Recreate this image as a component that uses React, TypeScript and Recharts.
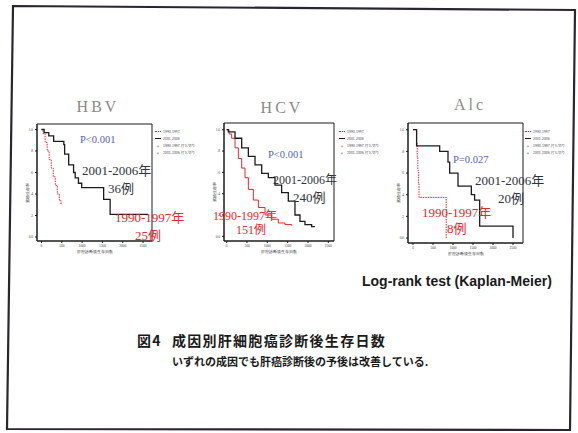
import React from "react";
import { LineChart, Line, XAxis, YAxis, ReferenceArea } from "recharts";

// survival time (days) / cumulative survival, 1990-1997 vs 2001-2006
const HBV_OLD_T = [0, 40, 90, 140, 190, 240, 290, 340, 390, 440, 480];
const HBV_OLD_S = [1.0, 0.96, 0.88, 0.8, 0.72, 0.64, 0.56, 0.48, 0.4, 0.34, 0.3];
const HBV_NEW_T = [0, 65, 180, 300, 550, 570, 670, 790, 830, 910, 990, 1530, 1690, 2620];
const HBV_NEW_S = [1.0, 0.97, 0.94, 0.89, 0.86, 0.77, 0.67, 0.6, 0.55, 0.5, 0.46, 0.35, 0.21, 0.21];

const HCV_OLD_T = [0, 60, 123, 205, 287, 369, 451, 533, 656, 779, 943, 1107, 1270, 1434, 1600];
const HCV_OLD_S = [1.0, 0.96, 0.92, 0.83, 0.73, 0.64, 0.55, 0.44, 0.34, 0.27, 0.2, 0.16, 0.125, 0.11, 0.1];
const HCV_NEW_T = [0, 41, 205, 369, 533, 697, 861, 1025, 1189, 1352, 1516, 1680, 1803, 1926, 2090, 2170];
const HCV_NEW_S = [1.0, 0.98, 0.92, 0.83, 0.75, 0.67, 0.59, 0.55, 0.48, 0.41, 0.33, 0.2, 0.14, 0.11, 0.09, 0.09];

const ALC_OLD_T = [0, 90, 105, 120, 135, 150, 830];
const ALC_OLD_S = [1.0, 0.875, 0.75, 0.625, 0.5, 0.375, 0.0];
const ALC_NEW_T = [0, 90, 667, 875, 917, 1125, 1458, 1540, 1667, 2500];
const ALC_NEW_S = [1.0, 0.85, 0.8, 0.7, 0.6, 0.48, 0.4, 0.35, 0.11, 0.0];

const X_TICKS = [0, 500, 1000, 1500, 2000, 2500];
const Y_TICKS = [0, 0.2, 0.4, 0.6, 0.8, 1.0];
const LEGEND_ITEMS = ["1990-1997", "2001-2006", "1990-1997-打ち切り", "2001-2006-打ち切り"];

const zip = (t: number[], s: number[]) => t.map((v, i) => ({ t: v, s: s[i] }));

const RED = "#e8262c";
const INK = "#1c1c1c";
const SERIF = "'Liberation Serif', 'Noto Sans CJK JP', serif";
const GOTHIC = "'Noto Sans CJK JP', sans-serif";

const YW = 11;
const ML = 5;
const XH = 13;
const PAD = 2;

const fmtY = (v: number) => (v === 0 ? "0.0" : v === 1 ? "1.0" : "." + Math.round(v * 10));

type Box = { x: number; y: number; w: number; h: number };

interface PanelProps {
  box: Box;
  xDomain: [number, number];
  yDomain: [number, number];
  oldData: { t: number; s: number }[];
  newData: { t: number; s: number }[];
  dashed?: boolean;
}

const Panel: React.FC<PanelProps> = ({ box, xDomain, yDomain, oldData, newData, dashed }) => {
  const w = box.w + YW + ML + PAD;
  const h = box.h + XH + PAD;
  return (
    <div style={{ position: "absolute", left: box.x - YW - ML, top: box.y - PAD }}>
      <LineChart width={w} height={h} margin={{ top: PAD, right: PAD, left: ML, bottom: 0 }}>
        <XAxis
          type="number"
          dataKey="t"
          domain={xDomain}
          ticks={X_TICKS}
          interval={0}
          allowDataOverflow
          height={XH}
          tickSize={2}
          stroke={INK}
          tick={{ fontSize: 3.5, fill: "#444" }}
          label={{ value: "肝癌診断後生存日数", position: "insideBottom", offset: 1, fontSize: 4, fill: "#333" }}
        />
        <YAxis
          type="number"
          domain={yDomain}
          ticks={Y_TICKS}
          interval={0}
          allowDataOverflow
          width={YW}
          tickSize={2}
          stroke={INK}
          tickFormatter={fmtY}
          tick={{ fontSize: 3.5, fill: "#444" }}
          label={{ value: "累積生存率", angle: -90, position: "left", offset: -2, fontSize: 4, fill: "#333" }}
        />
        <ReferenceArea
          x1={xDomain[0]}
          x2={xDomain[1]}
          y1={yDomain[0]}
          y2={yDomain[1]}
          fill="none"
          stroke={INK}
          strokeWidth={1}
        />
        <Line
          data={oldData}
          dataKey="s"
          type="stepAfter"
          stroke={RED}
          strokeWidth={1}
          strokeDasharray={dashed ? "1.5 1" : undefined}
          dot={false}
          isAnimationActive={false}
        />
        <Line
          data={newData}
          dataKey="s"
          type="stepAfter"
          stroke={INK}
          strokeWidth={1.3}
          dot={false}
          isAnimationActive={false}
        />
      </LineChart>
    </div>
  );
};

const Legend: React.FC<{ x: number; y: number }> = ({ x, y }) => (
  <div style={{ position: "absolute", left: x, top: y, fontFamily: GOTHIC, fontSize: 3.5, color: "#555", lineHeight: "7px" }}>
    {LEGEND_ITEMS.map((name, i) => (
      <div key={name} style={{ display: "flex", alignItems: "center", gap: 2 }}>
        <span
          style={{
            display: "inline-block",
            width: 6,
            textAlign: "center",
            borderTop: i === 0 ? `1px dotted ${RED}` : i === 1 ? `1px solid ${INK}` : "none",
            fontSize: 5,
            lineHeight: "1px",
          }}
        >
          {i > 1 ? "+" : ""}
        </span>
        <span>{name}</span>
      </div>
    ))}
  </div>
);

const Note: React.FC<{ x: number; y: number; size: number; color: string; children: React.ReactNode }> = ({
  x,
  y,
  size,
  color,
  children,
}) => (
  <div
    style={{
      position: "absolute",
      left: x,
      top: y,
      transform: "translateY(-50%)",
      fontFamily: SERIF,
      fontSize: size,
      color,
      lineHeight: 1,
      whiteSpace: "nowrap",
    }}
  >
    {children}
  </div>
);

const Title: React.FC<{ cx: number; y: number; text: string }> = ({ cx, y, text }) => (
  <div
    style={{
      position: "absolute",
      left: cx - 40,
      width: 80,
      top: y - 9,
      textAlign: "center",
      fontFamily: SERIF,
      fontSize: 16,
      letterSpacing: 3,
      color: "#8a8a8a",
      lineHeight: "18px",
    }}
  >
    {text}
  </div>
);

const BLUE = "#5563b4";
const SLATE = "#2f3440";

export default function App() {
  return (
    <div style={{ position: "absolute", left: 0, top: 0, width: 578, height: 433, background: "#fff", overflow: "hidden" }}>
      <svg width={578} height={433} style={{ position: "absolute", left: 0, top: 0 }}>
        <polygon points="13,6 575,10 570,430 7,429" fill="none" stroke="#2a2630" strokeWidth={2.2} />
      </svg>

      <Title cx={98} y={107} text="HBV" />
      <Title cx={282} y={108} text="HCV" />
      <Title cx={470} y={105} text="Alc" />

      <Panel
        box={{ x: 37, y: 124, w: 115, h: 117 }}
        xDomain={[-110, 2720]}
        yDomain={[-0.037, 1.051]}
        oldData={zip(HBV_OLD_T, HBV_OLD_S)}
        newData={zip(HBV_NEW_T, HBV_NEW_S)}
        dashed
      />
      <Panel
        box={{ x: 224, y: 123, w: 110, h: 118 }}
        xDomain={[-66, 2640]}
        yDomain={[-0.044, 1.063]}
        oldData={zip(HCV_OLD_T, HCV_OLD_S)}
        newData={zip(HCV_NEW_T, HCV_NEW_S)}
      />
      <Panel
        box={{ x: 408, y: 123, w: 115, h: 120 }}
        xDomain={[-125, 2750]}
        yDomain={[-0.046, 1.062]}
        oldData={zip(ALC_OLD_T, ALC_OLD_S)}
        newData={zip(ALC_NEW_T, ALC_NEW_S)}
        dashed
      />

      <Legend x={155} y={128} />
      <Legend x={339} y={128} />
      <Legend x={525} y={128} />

      <Note x={80} y={140} size={10.5} color={BLUE}>P&lt;0.001</Note>
      <Note x={82} y={170} size={13} color={SLATE}>2001-2006年</Note>
      <Note x={108} y={188} size={13} color={SLATE}>36例</Note>
      <Note x={115} y={217} size={13} color={RED}>1990-1997年</Note>
      <Note x={135} y={235} size={13} color={RED}>25例</Note>

      <Note x={268} y={155} size={10.5} color={BLUE}>P&lt;0.001</Note>
      <Note x={273} y={180} size={12} color={SLATE}>2001-2006年</Note>
      <Note x={293} y={197} size={13} color={SLATE}>240例</Note>
      <Note x={213} y={216} size={12} color={RED}>1990-1997年</Note>
      <Note x={236} y={230} size={12} color={RED}>151例</Note>

      <Note x={453} y={160} size={10.5} color={BLUE}>P=0.027</Note>
      <Note x={475} y={180} size={13} color={SLATE}>2001-2006年</Note>
      <Note x={498} y={198} size={13} color={SLATE}>20例</Note>
      <Note x={422} y={212} size={13} color={RED}>1990-1997年</Note>
      <Note x={447} y={228} size={13} color={RED}>8例</Note>

      <div
        style={{
          position: "absolute",
          left: 362,
          top: 273,
          fontFamily: "'Liberation Sans', Arial, sans-serif",
          fontWeight: "bold",
          fontSize: 14,
          color: "#1a1a1a",
          lineHeight: "16px",
          whiteSpace: "nowrap",
        }}
      >
        Log-rank test (Kaplan-Meier)
      </div>

      <div
        style={{
          position: "absolute",
          left: 137,
          top: 331,
          fontFamily: GOTHIC,
          fontWeight: "bold",
          fontSize: 14,
          letterSpacing: 1.3,
          color: "#1a1a1a",
          lineHeight: "18px",
          whiteSpace: "nowrap",
        }}
      >
        図4<span style={{ marginLeft: 10 }}>成因別肝細胞癌診断後生存日数</span>
      </div>
      <div
        style={{
          position: "absolute",
          left: 172,
          top: 354,
          fontFamily: GOTHIC,
          fontWeight: "bold",
          fontSize: 11,
          color: "#1a1a1a",
          lineHeight: "14px",
          whiteSpace: "nowrap",
        }}
      >
        いずれの成因でも肝癌診断後の予後は改善している.
      </div>
    </div>
  );
}
